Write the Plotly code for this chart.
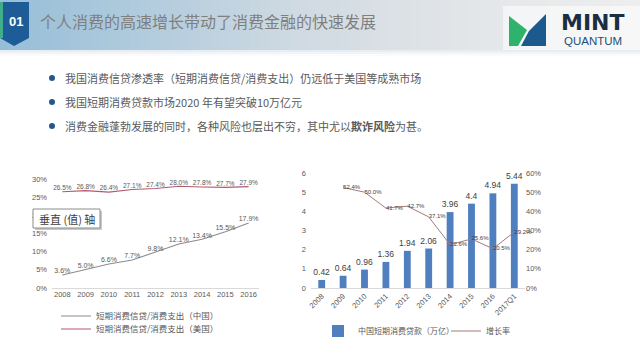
import plotly.graph_objects as go

W, H = 640, 357

# ---------------- data ----------------
years_left = ["2008", "2009", "2010", "2011", "2012", "2013", "2014", "2015", "2016"]
china_ratio = [3.6, 5.0, 6.6, 7.7, 9.8, 12.1, 13.4, 15.5, 17.9]
us_ratio = [26.5, 26.8, 26.4, 27.1, 27.4, 28.0, 27.8, 27.7, 27.9]
left_yticks = [0, 5, 10, 15, 20, 25, 30]

years_right = ["2008", "2009", "2010", "2011", "2012", "2013", "2014", "2015", "2016", "2017Q1"]
loans = [0.42, 0.64, 0.96, 1.36, 1.94, 2.06, 3.96, 4.4, 4.94, 5.44]
growth_years = ["2009", "2010", "2011", "2012", "2013", "2014", "2015", "2016", "2017Q1"]
growth = [52.4, 50.0, 41.7, 42.7, 37.1, 22.6, 25.6, 20.5, 29.2]

title_text = "个人消费的高速增长带动了消费金融的快速发展"
bullets = [
    "我国消费信贷渗透率（短期消费信贷/消费支出）仍远低于美国等成熟市场",
    "我国短期消费贷款市场2020 年有望突破10万亿元",
    "消费金融蓬勃发展的同时，各种风险也层出不穷，其中尤以<b>欺诈风险</b>为甚。",
]

CJK = "Noto Sans CJK SC, Microsoft YaHei, sans-serif"
NUM = "Liberation Sans, Arial, sans-serif"

def px(x):
    return x / W

def py(y):
    return 1 - y / H

fig = go.Figure()

# ---------------- left chart ----------------
fig.add_trace(go.Scatter(
    x=years_left, y=china_ratio, mode="lines+text", name="短期消费信贷/消费支出（中国）",
    text=[f"{v:.1f}%" for v in china_ratio], textposition="top center",
    textfont=dict(size=7, color="#595959", family=NUM),
    line=dict(color="#8c8c8c", width=1.1), cliponaxis=False, showlegend=True,
    xaxis="x", yaxis="y", legend="legend",
))
fig.add_trace(go.Scatter(
    x=years_left, y=us_ratio, mode="lines+text", name="短期消费信贷/消费支出（美国）",
    text=[f"{v:.1f}%" for v in us_ratio], textposition="top center",
    textfont=dict(size=6.5, color="#595959", family=NUM),
    line=dict(color="#b5586e", width=1.1), cliponaxis=False, showlegend=True,
    xaxis="x", yaxis="y", legend="legend3",
))

# ---------------- right chart ----------------
fig.add_trace(go.Bar(
    x=years_right, y=loans, name="中国短期消费贷款（万亿）",
    marker=dict(color="#4f7fbe", line=dict(width=0)),
    text=[f"{v:g}" for v in loans], textposition="outside", constraintext="none",
    textfont=dict(size=8.5, color="#404040", family=NUM), cliponaxis=False, showlegend=True,
    xaxis="x2", yaxis="y2", legend="legend2",
))
fig.add_trace(go.Scatter(
    x=growth_years, y=growth, mode="lines+text", name="增长率",
    text=[f"{v:.1f}%" for v in growth], textposition="middle right",
    textfont=dict(size=6, color="#404040", family=NUM),
    line=dict(color="#a87878", width=1), cliponaxis=False, showlegend=True,
    xaxis="x2", yaxis="y3", legend="legend4",
))

tick_font = dict(size=7.5, color="#595959", family=NUM)
leg_common = dict(xanchor="left", yanchor="middle", orientation="h", visible=True,
                  bgcolor="rgba(0,0,0,0)", itemwidth=30, borderwidth=0)

fig.update_layout(
    width=W, height=H, margin=dict(l=0, r=0, t=0, b=0, autoexpand=False),
    paper_bgcolor="white", plot_bgcolor="rgba(0,0,0,0)",
    showlegend=True, bargap=0.68,
    xaxis=dict(domain=[px(52), px(259)], type="category", showgrid=False, automargin=False,
               showline=False, ticks="", tickfont=tick_font, zeroline=False),
    yaxis=dict(domain=[py(288), py(179)], range=[0, 30], tickvals=left_yticks, automargin=False,
               ticktext=[f"{v}%" for v in left_yticks], showgrid=False,
               zeroline=True, zerolinecolor="#d9d9d9", zerolinewidth=1,
               ticklabelstandoff=4, tickfont=tick_font, showline=False),
    xaxis2=dict(domain=[px(311), px(525)], type="category", showgrid=False, automargin=False,
                showline=True, linecolor="#d9d9d9", linewidth=1, ticks="",
                tickangle=-45, tickfont=dict(size=7.5, color="#595959", family=NUM),
                anchor="y2"),
    yaxis2=dict(domain=[py(288), py(173)], range=[0, 6], dtick=1, showgrid=False, automargin=False,
                zeroline=False, tickfont=tick_font, anchor="x2", showline=False,
                ticklabelstandoff=4),
    yaxis3=dict(domain=[py(288), py(173)], range=[0, 60], dtick=10, overlaying="y2",
                side="right", anchor="x2", showgrid=False, zeroline=False, automargin=False,
                ticksuffix="%", tickfont=tick_font, showline=False),
    legend=dict(x=px(56), y=py(316), font=dict(size=8.5, color="#595959", family=CJK), **leg_common),
    legend3=dict(x=px(56), y=py(329), font=dict(size=8.5, color="#595959", family=CJK), **leg_common),
    legend2=dict(x=px(318), y=py(331), font=dict(size=8, color="#595959", family=CJK), **leg_common),
    legend4=dict(x=px(446), y=py(331), font=dict(size=8, color="#595959", family=CJK), **leg_common),
)

shapes = []
annotations = []

def note(text, x, y, size, color, family, xanchor="center"):
    annotations.append(dict(text=text, x=px(x), y=py(y), xref="paper", yref="paper",
                            xanchor=xanchor, yanchor="middle", showarrow=False,
                            font=dict(size=size, color=color, family=family)))

# header band (decorative horizontal gradient)
stops = [(0, (150, 190, 216)), (160, (180, 205, 222)), (300, (208, 218, 226)),
         (460, (226, 229, 232)), (640, (238, 238, 238))]
def col_at(x):
    for (x0, c0), (x1, c1) in zip(stops[:-1], stops[1:]):
        if x0 <= x <= x1:
            t = (x - x0) / (x1 - x0)
            return tuple(int(round(c0[i] + (c1[i] - c0[i]) * t)) for i in range(3))
    return stops[-1][1]
step = 10
for x0 in range(0, W, step):
    c = col_at(x0 + step / 2)
    shapes.append(dict(type="rect", xref="paper", yref="paper", x0=px(x0), x1=px(x0 + step + 0.5),
                       y0=py(50), y1=1, line=dict(width=0), fillcolor=f"rgb{c}", layer="below"))
for i, a in enumerate([0.6, 0.35, 0.15]):
    shapes.append(dict(type="rect", xref="paper", yref="paper", x0=0, x1=1,
                       y0=py(50 + 2 * (i + 1)), y1=py(50 + 2 * i), line=dict(width=0),
                       fillcolor=f"rgba(215,225,232,{a})", layer="below"))

# "01" tag
shapes.append(dict(type="path", xref="paper", yref="paper",
                   path=f"M {px(0)},{py(2)} L {px(29)},{py(2)} L {px(29)},{py(38)} L {px(14)},{py(46)} L {px(0)},{py(38)} Z",
                   fillcolor="#1d5c97", line=dict(width=0)))
shapes.append(dict(type="rect", xref="paper", yref="paper", x0=px(0), x1=px(3),
                   y0=py(38), y1=py(2), fillcolor="#3fae8a", line=dict(width=0)))
note("<b>01</b>", 15.5, 21, 13, "white", NUM)
note(title_text, 38, 21, 16, "#7f7f7f", CJK, xanchor="left")

# logo
shapes.append(dict(type="rect", xref="paper", yref="paper", x0=px(503), x1=px(640),
                   y0=py(50), y1=py(6), fillcolor="rgba(255,255,255,0.55)", line=dict(width=0)))
shapes.append(dict(type="path", xref="paper", yref="paper",
                   path=f"M {px(509)},{py(46)} L {px(509)},{py(16)} L {px(527)},{py(30)} L {px(518)},{py(46)} Z",
                   fillcolor="#2db36b", line=dict(width=0)))
shapes.append(dict(type="path", xref="paper", yref="paper",
                   path=f"M {px(521)},{py(46)} L {px(529)},{py(31)} L {px(546)},{py(14)} L {px(546)},{py(46)} Z",
                   fillcolor="#1c5a8e", line=dict(width=0)))
note("<b>MINT</b>", 593, 22, 22, "#1b2e44", "DejaVu Sans")
note("QUANTUM", 593, 41, 11.5, "#1d4f7a", NUM)

# bullets
for i, t in enumerate(bullets):
    yy = 78 + 24 * i
    shapes.append(dict(type="circle", xref="paper", yref="paper",
                       x0=px(49), x1=px(55), y0=py(yy + 3), y1=py(yy - 3),
                       fillcolor="#24588c", line=dict(width=0)))
    note(t, 63, yy, 11, "#595959", CJK, xanchor="left")

# "垂直 (值) 轴" tooltip box with shadow
shapes.append(dict(type="rect", xref="paper", yref="paper", x0=px(35), x1=px(102),
                   y0=py(230), y1=py(211), fillcolor="#c8c8c8", line=dict(width=0)))
shapes.append(dict(type="rect", xref="paper", yref="paper", x0=px(33), x1=px(100),
                   y0=py(228), y1=py(209), fillcolor="white", line=dict(color="#8c8c8c", width=1)))
note("垂直 (值) 轴", 66.5, 218.5, 11, "#404040", CJK)

fig.update_layout(shapes=shapes, annotations=annotations)
fig.write_html("out.html", config={"displayModeBar": False},
               post_script="document.body.style.margin='0';")
